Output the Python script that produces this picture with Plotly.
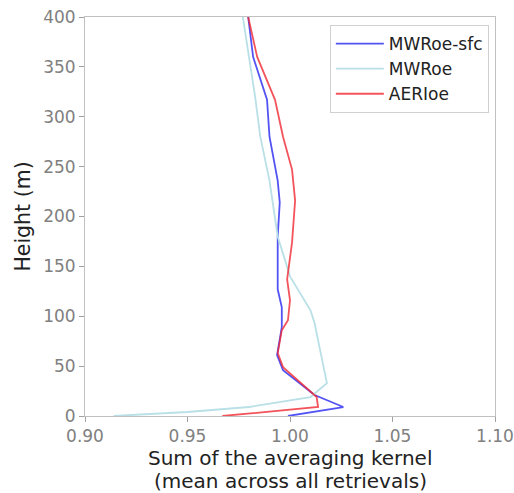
import plotly.graph_objects as go

# heights (m) and values
h_sfc = [0, 9, 21, 46, 61, 89, 109, 127, 180, 214, 236, 280, 317, 360, 400]
v_sfc = [0.999, 1.026, 1.012, 0.9966, 0.9937, 0.996, 0.996, 0.994, 0.994, 0.995, 0.994, 0.990, 0.9888, 0.982, 0.9796]

h_mwr = [0, 4, 9, 19, 33, 93, 106, 140, 180, 236, 280, 320, 400]
v_mwr = [0.914, 0.950, 0.980, 1.010, 1.018, 1.012, 1.010, 1.000, 0.994, 0.990, 0.9855, 0.983, 0.977]

h_aer = [0, 9, 19, 49, 63, 86, 96, 116, 137, 174, 216, 247, 280, 317, 360, 400]
v_aer = [0.967, 1.0137, 1.013, 0.9966, 0.994, 0.996, 0.999, 1.000, 0.9986, 1.001, 1.0025, 1.001, 0.9966, 0.9927, 0.984, 0.9796]

names = ["MWRoe-sfc", "MWRoe", "AERIoe"]
colors = ["rgba(40,40,240,0.8)", "#b8e0e6", "rgba(240,40,50,0.8)"]
xtitle_lines = ["Sum of the averaging kernel", "(mean across all retrievals)"]

fig = go.Figure()
for name, x, y, c in zip(names, [v_sfc, v_mwr, v_aer], [h_sfc, h_mwr, h_aer], colors):
    fig.add_trace(go.Scatter(x=x, y=y, mode="lines", name=name,
                             line=dict(color=c, width=1.8)))

axis_common = dict(showgrid=False, zeroline=False, showline=True, mirror=True,
                   linecolor="#c0c0c0", linewidth=1, ticks="outside", ticklen=5,
                   tickcolor="#a0a0a0", tickfont=dict(color="#808080", size=17),
                   automargin=False)
fig.update_xaxes(range=[0.90, 1.10], tickvals=[0.90, 0.95, 1.00, 1.05, 1.10],
                 ticktext=["0.90", "0.95", "1.00", "1.05", "1.10"],
                 **axis_common)
fig.update_yaxes(range=[0, 400], tickvals=list(range(0, 401, 50)),
                 title=dict(text="Height (m)", font=dict(size=20.5, color="#222"), standoff=6),
                 **axis_common)
# two-line x-axis title, with the tighter line spacing of the reference
for txt, yp in zip(xtitle_lines, [-0.106, -0.163]):
    fig.add_annotation(text=txt, xref="paper", yref="paper", x=0.5, y=yp,
                       xanchor="center", yanchor="middle", showarrow=False,
                       font=dict(size=20, color="#222"))
fig.update_layout(
    width=514, height=493,
    margin=dict(l=85, r=19, t=17, b=77),
    paper_bgcolor="white", plot_bgcolor="white",
    font=dict(family="DejaVu Sans"),
    legend=dict(x=0.985, y=0.98, xanchor="right", yanchor="top",
                bordercolor="#d0d0d0", borderwidth=1, bgcolor="white",
                font=dict(size=17, color="#222"), tracegroupgap=0, itemwidth=48),
)
fig.write_html("out.html", config={"displayModeBar": False},
               post_script="document.body.style.margin='0';")
